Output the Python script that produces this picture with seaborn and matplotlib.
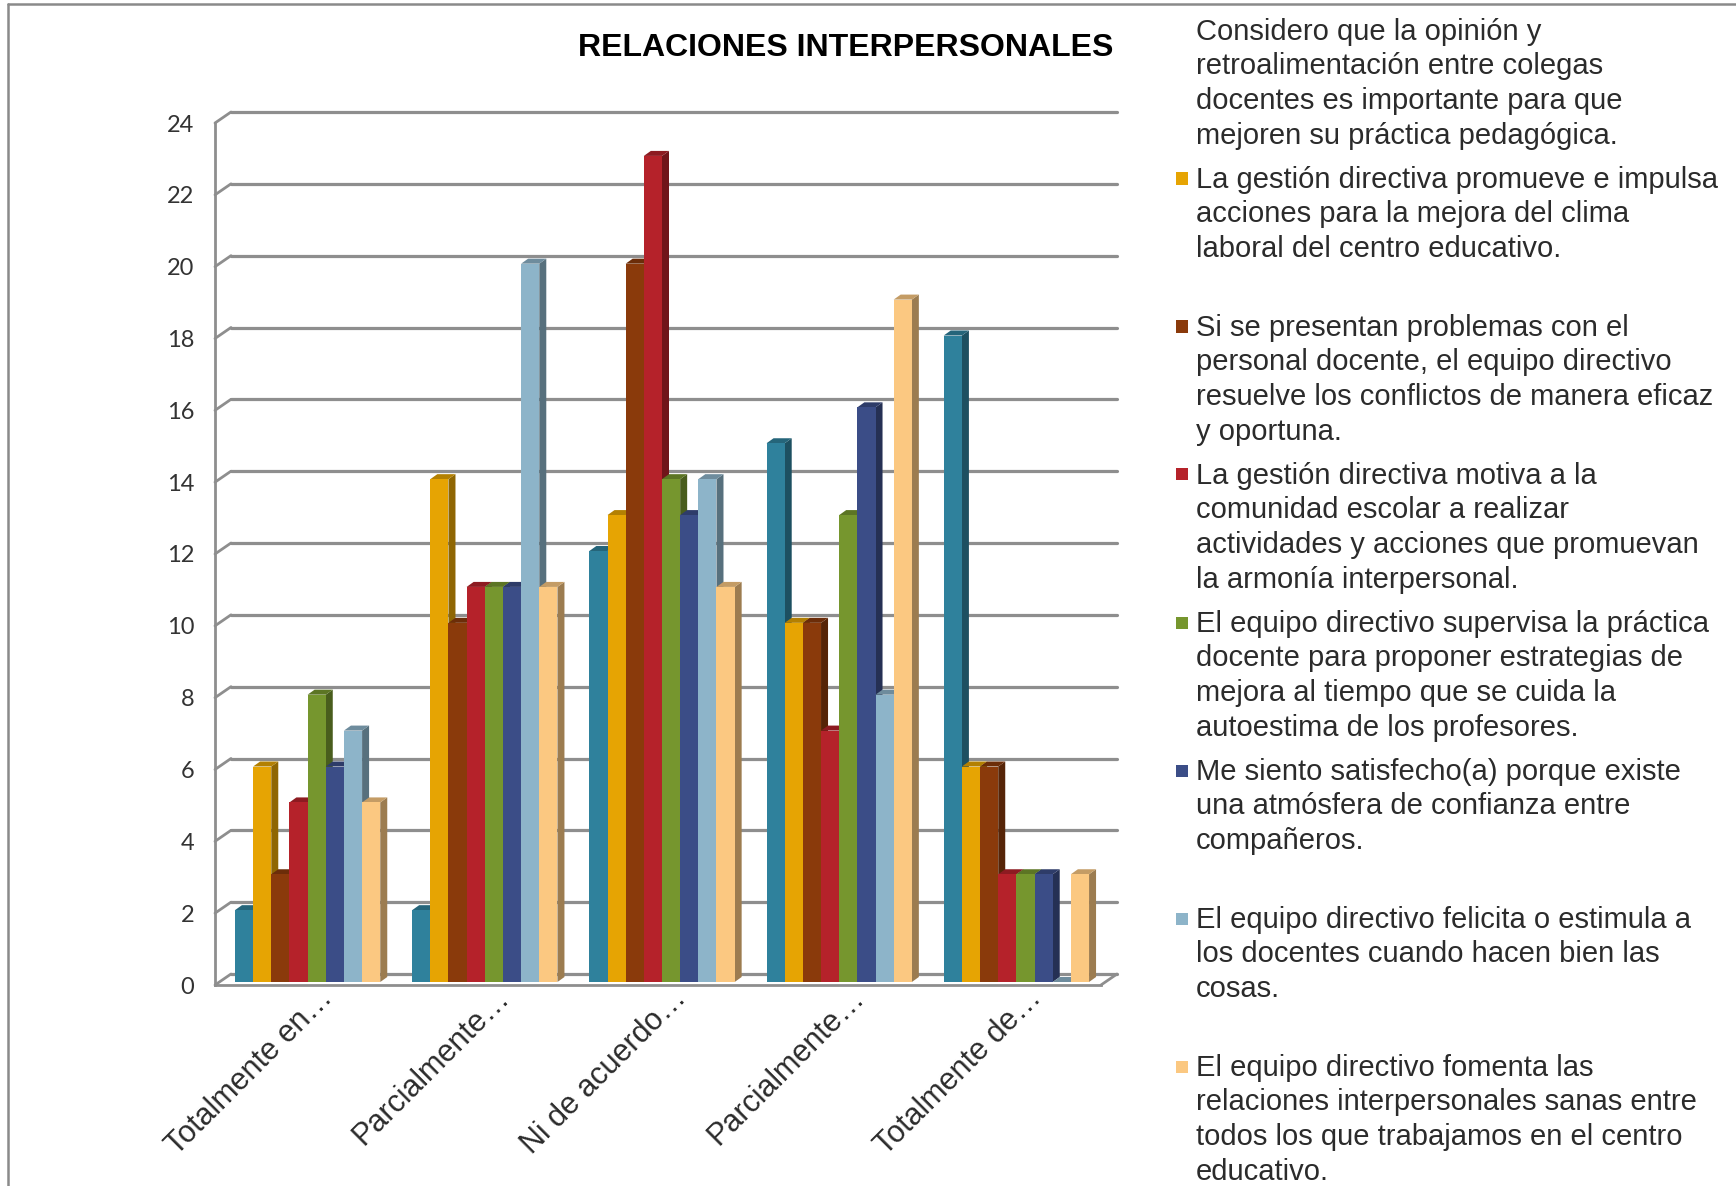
import matplotlib
matplotlib.use("Agg")
import matplotlib.pyplot as plt
import matplotlib.colors as mcolors
from matplotlib import transforms as mtransforms
from matplotlib.patches import Polygon, Rectangle
from matplotlib.lines import Line2D
import numpy as np
import pandas as pd
import seaborn as sns

# ---------------------------------------------------------------- data
categories = [
    "Totalmente en desacuerdo",
    "Parcialmente en desacuerdo",
    "Ni de acuerdo ni en desacuerdo",
    "Parcialmente de acuerdo",
    "Totalmente de acuerdo",
]
tick_labels = ["Totalmente en…", "Parcialmente…", "Ni de acuerdo…",
               "Parcialmente…", "Totalmente de…"]

item_lines = [
    ["Considero que la opinión y", "retroalimentación entre colegas",
     "docentes es importante para que", "mejoren su práctica pedagógica."],
    ["La gestión directiva promueve e impulsa", "acciones para la mejora del clima",
     "laboral del centro educativo."],
    ["Si se presentan problemas con el", "personal docente, el equipo directivo",
     "resuelve los conflictos de manera eficaz", "y oportuna."],
    ["La gestión directiva motiva a la", "comunidad escolar a realizar",
     "actividades y acciones que promuevan", "la armonía interpersonal."],
    ["El equipo directivo supervisa la práctica", "docente para proponer estrategias de",
     "mejora al tiempo que se cuida la", "autoestima de los profesores."],
    ["Me siento satisfecho(a) porque existe", "una atmósfera de confianza entre",
     "compañeros."],
    ["El equipo directivo felicita o estimula a", "los docentes cuando hacen bien las",
     "cosas."],
    ["El equipo directivo fomenta las", "relaciones interpersonales sanas entre",
     "todos los que trabajamos en el centro", "educativo."],
]
item_names = [" ".join(lines) for lines in item_lines]

opinion_retro = [2, 2, 12, 15, 18]
gestion_impulsa = [6, 14, 13, 10, 6]
resuelve_conflictos = [3, 10, 20, 10, 6]
gestion_motiva = [5, 11, 23, 7, 3]
supervisa_practica = [8, 11, 14, 13, 3]
atmosfera_confianza = [6, 11, 13, 16, 3]
felicita_docentes = [7, 20, 14, 8, 0]
fomenta_relaciones = [5, 11, 11, 19, 3]
series_values = [opinion_retro, gestion_impulsa, resuelve_conflictos, gestion_motiva,
                 supervisa_practica, atmosfera_confianza, felicita_docentes,
                 fomenta_relaciones]

colors = ["#2F819C", "#E6A403", "#8A3A0B", "#B5222A",
          "#76962E", "#3B4D87", "#8DB4C9", "#FBC881"]

y_ticks = list(range(0, 25, 2))

df = pd.DataFrame(
    [(cat, name, vals[i])
     for name, vals in zip(item_names, series_values)
     for i, cat in enumerate(categories)],
    columns=["respuesta", "item", "frecuencia"],
)

# ---------------------------------------------------------------- figure
W, H = 1736, 1186
DPI = 100
sns.set_style("white")
plt.rcParams["font.family"] = ["Liberation Sans", "DejaVu Sans"]

fig = plt.figure(figsize=(W / DPI, H / DPI), dpi=DPI)
fig.patch.set_facecolor("white")

ax_l, ax_r, ax_b, ax_t = 215, 1101, 985, 123        # pixel frame of the plot
ax = fig.add_axes([ax_l / W, 1 - ax_b / H, (ax_r - ax_l) / W, (ax_b - ax_t) / H])
ax.set_facecolor("none")

sns.barplot(data=df, x="respuesta", y="frecuencia", hue="item",
            order=categories, hue_order=item_names, palette=colors,
            width=0.82, saturation=1, linewidth=0, legend=False, ax=ax,
            errorbar=None)

xmin, xmax = -0.5, len(categories) - 0.5
ymin, ymax = 0, 24
ax.set_xlim(xmin, xmax)
ax.set_ylim(ymin, ymax)

px_x = (xmax - xmin) / (ax_r - ax_l)     # data units per pixel
px_y = (ymax - ymin) / (ax_b - ax_t)

grid_col = "#8E8E8E"

# back wall grid (offset in depth) with slanted connectors to the front axis
gdx, gdy = 16 * px_x, 11 * px_y
for v in y_ticks:
    ax.add_line(Line2D([xmin + gdx, xmax + gdx], [v + gdy, v + gdy],
                       color=grid_col, lw=2.3, zorder=0.5, clip_on=False))
    ax.add_line(Line2D([xmin, xmin + gdx], [v, v + gdy],
                       color=grid_col, lw=2.0, zorder=0.5, clip_on=False))
ax.add_line(Line2D([xmax, xmax + gdx], [0, gdy],
                   color=grid_col, lw=2.0, zorder=0.5, clip_on=False))

# 3-D look for the columns: right side face and top face
shift = mtransforms.ScaledTranslation(4 / DPI, 3 / DPI, fig.dpi_scale_trans)
bdx, bdy = 7 * px_x, 5 * px_y
bars = sorted(ax.patches, key=lambda p: p.get_x())
for k, p in enumerate(bars):
    x0, w, h = p.get_x(), p.get_width(), p.get_height()
    base = np.array(mcolors.to_rgb(p.get_facecolor()))
    side = base * 0.62
    top = base * 0.78
    tr = ax.transData + shift
    z = 2 + 0.01 * k
    p.set_transform(tr)
    p.set_zorder(z)
    ax.add_patch(Polygon([(x0 + w, 0), (x0 + w + bdx, bdy), (x0 + w + bdx, h + bdy),
                          (x0 + w, h)], closed=True, facecolor=side, lw=0,
                         transform=tr, zorder=z - 0.005, clip_on=False))
    ax.add_patch(Polygon([(x0, h), (x0 + bdx, h + bdy), (x0 + w + bdx, h + bdy),
                          (x0 + w, h)], closed=True, facecolor=top, lw=0,
                         transform=tr, zorder=z - 0.004, clip_on=False))

# axes, ticks
for side_name in ["top", "right"]:
    ax.spines[side_name].set_visible(False)
for side_name in ["left", "bottom"]:
    ax.spines[side_name].set_color(grid_col)
    ax.spines[side_name].set_linewidth(2.0)
    ax.spines[side_name].set_zorder(1)

ax.set_yticks(y_ticks)
ax.set_yticklabels([str(v) for v in y_ticks], fontsize=17, color="#333333",
                   family=["Lato", "DejaVu Sans"])
ax.tick_params(axis="y", length=5, width=1.6, color=grid_col, pad=10)
ax.set_xticks(np.arange(xmin, xmax + 0.01, 1.0))
ax.set_xticklabels([])
ax.tick_params(axis="x", length=5, width=1.6, color=grid_col)
ax.set_xlabel("")
ax.set_ylabel("")
ax.grid(False)

# rotated category labels, right end anchored just past each group centre
label_tr = mtransforms.offset_copy(ax.transData, fig=fig, x=30, y=-14, units="dots")
for i, lab in enumerate(tick_labels):
    ax.text(i, 0, lab, transform=label_tr, rotation=45, rotation_mode="anchor",
            ha="right", va="baseline", fontsize=22, color="#2B2B2B",
            clip_on=False)

# ---------------------------------------------------------------- title
fig.text(846 / W, 1 - 48 / H, "RELACIONES INTERPERSONALES", ha="center", va="center",
         fontsize=23, fontweight="bold", color="black")

# ---------------------------------------------------------------- legend
leg_x_text = 1196
leg_first = 29.5
leg_step = 148.0
line_pitch = 34.5
for i, lines in enumerate(item_lines):
    yc = leg_first + i * leg_step
    if i > 0:
        fig.patches.append(Rectangle((1176 / W, 1 - (yc + 7) / H), 12 / W, 12 / H,
                                     transform=fig.transFigure, facecolor=colors[i],
                                     edgecolor="none"))
    for j, line in enumerate(lines):
        yb = yc + j * line_pitch + 10.5
        fig.text(leg_x_text / W, 1 - yb / H, line, ha="left", va="baseline",
                 fontsize=21, color="#2B2B2B")

# ---------------------------------------------------------------- frame
fig.add_artist(Line2D([8 / W, 8 / W], [0, 1 - 4 / H], transform=fig.transFigure,
                      color="#8A8A8A", lw=1.8))
fig.add_artist(Line2D([8 / W, 1], [1 - 4 / H, 1 - 4 / H], transform=fig.transFigure,
                      color="#8A8A8A", lw=1.8))

fig.savefig("out.png", dpi=DPI, facecolor="white")
